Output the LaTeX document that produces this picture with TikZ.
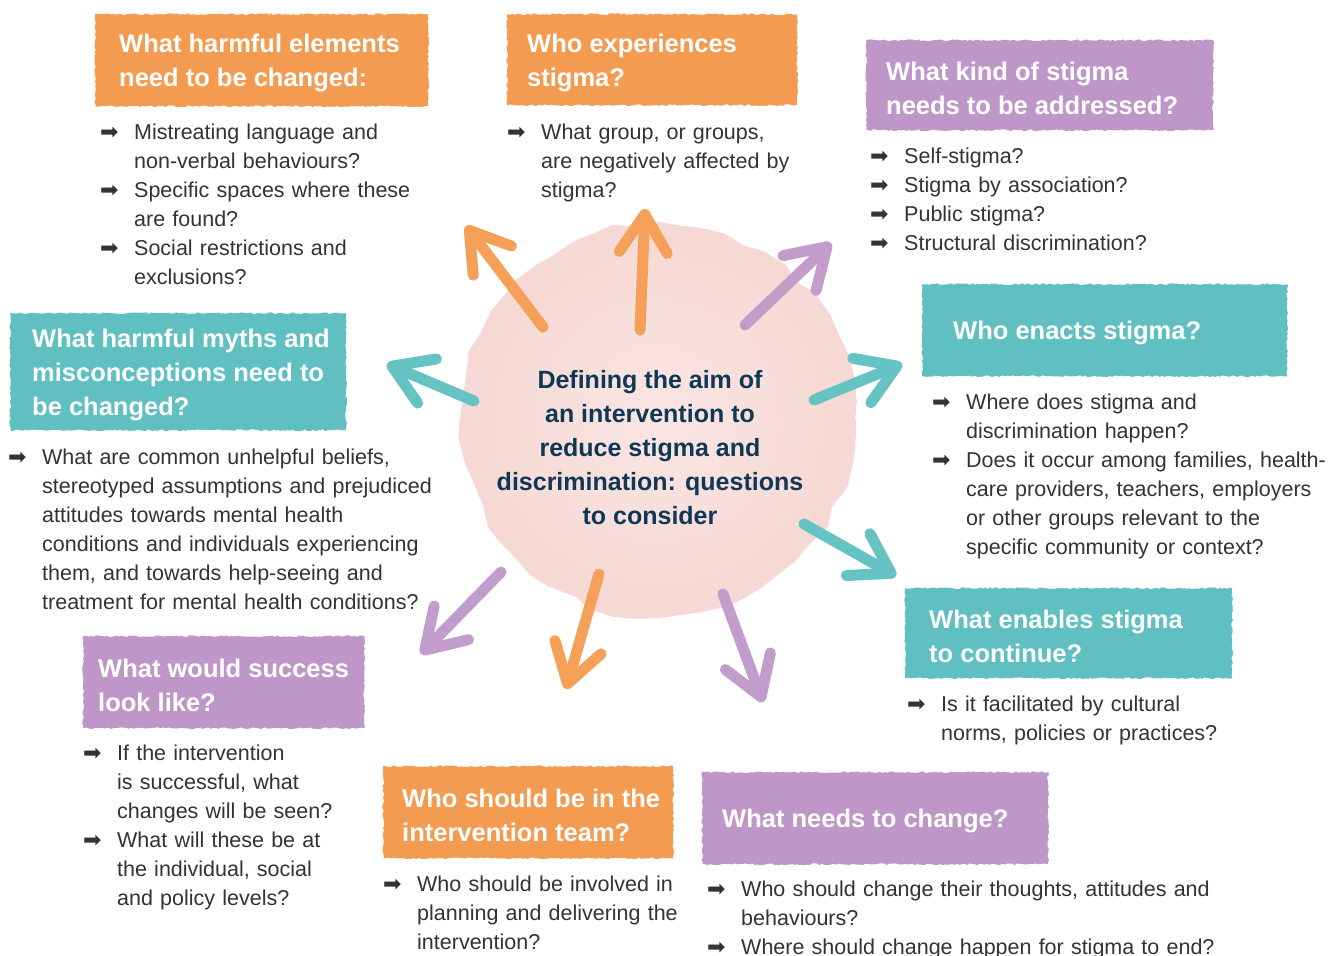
\documentclass[tikz,border=0pt]{standalone}
\usepackage{fontspec}
\setmainfont{Liberation Sans}
\newfontfamily\symfont{DejaVu Sans}
\usetikzlibrary{arrows.meta,positioning,decorations.pathmorphing}

\definecolor{boxOrange}{HTML}{F39B50}
\definecolor{boxTeal}{HTML}{5FBFC1}
\definecolor{boxPurple}{HTML}{BE97C8}
\definecolor{arrOrange}{HTML}{F5A058}
\definecolor{arrTeal}{HTML}{66C3C4}
\definecolor{arrPurple}{HTML}{C29DCB}
\definecolor{bodyGray}{HTML}{333333}
\definecolor{navy}{HTML}{0E3856}
\definecolor{blobInner}{HTML}{FAE6E3}
\definecolor{blobOuter}{HTML}{F6D8D4}

\newcommand{\titlefont}{\bfseries\fontsize{25.5}{34}\selectfont}
\newcommand{\listfont}{\fontsize{21.5}{29}\selectfont}
\newcommand{\bul}{{\symfont\fontsize{22}{22}\selectfont ➡}}
\newcommand{\qitem}[1]{\par\noindent\hangindent=34pt\hangafter=1\strut
  \makebox[34pt][l]{\bul}{\let\\\newline #1}\par}

\begin{document}
\begin{tikzpicture}[
    x=1pt, y=-1pt,
    qbox/.style n args={3}{fill=#1, minimum width=#2, minimum height=#3, anchor=north west,
                           inner sep=0pt, decorate,
                           decoration={random steps, segment length=2.5pt, amplitude=0.9pt}},
    qtitle/.style={align=left, text=white, font=\titlefont, inner sep=0pt, yshift=-3pt},
    qlist/.style={anchor=north west, inner sep=0pt, align=left, text=bodyGray,
                  font=\listfont, text width=540pt},
    spoke/.style={draw=#1, line width=11pt, line cap=round,
                  -{Straight Barb[length=38pt, width=48pt, round]}}
  ]
  \useasboundingbox (0,0) rectangle (1339,956);
  \fill[white] (0,0) rectangle (1339,956);

  % watercolour blob behind the centre
  \shade[inner color=blobInner, outer color=blobOuter, decorate,
         decoration={random steps, segment length=22pt, amplitude=4pt}]
    (658,420) circle (197pt);

  \node[align=center, text=navy, font=\bfseries\fontsize{25}{34}\selectfont] (aim) at (650,448)
    {Defining the aim of\\an intervention to\\reduce stigma and\\discrimination: questions\\to consider};

  % arrow ends
  \coordinate (a1s) at (543,327); \coordinate (a1e) at (466,226);
  \coordinate (a2s) at (640,330); \coordinate (a2e) at (645,209);
  \coordinate (a3s) at (745,325); \coordinate (a3e) at (831,243);
  \coordinate (a4s) at (814,400); \coordinate (a4e) at (902,364);
  \coordinate (a5s) at (804,524); \coordinate (a5e) at (896,576);
  \coordinate (a6s) at (474,401); \coordinate (a6e) at (387,364);
  \coordinate (a7s) at (501,572); \coordinate (a7e) at (421,654);
  \coordinate (a8s) at (599,574); \coordinate (a8e) at (566,689);
  \coordinate (a9s) at (723,594); \coordinate (a9e) at (763,702);

  \draw[spoke=arrOrange] (a1s) -- (a1e);
  \draw[spoke=arrOrange] (a2s) -- (a2e);
  \draw[spoke=arrPurple] (a3s) -- (a3e);
  \draw[spoke=arrTeal]   (a4s) -- (a4e);
  \draw[spoke=arrTeal]   (a5s) -- (a5e);
  \draw[spoke=arrTeal]   (a6s) -- (a6e);
  \draw[spoke=arrPurple] (a7s) -- (a7e);
  \draw[spoke=arrOrange] (a8s) -- (a8e);
  \draw[spoke=arrPurple] (a9s) -- (a9e);

  % question boxes
  \node[qbox={boxOrange}{333pt}{92pt}] (harmElem) at (95,14) {};
  \node[qtitle, right=24pt of harmElem.west] {What harmful elements\\need to be changed:};
  \node[qlist, below right=4pt and 5pt of harmElem.south west] (harmElemList)
    {\qitem{Mistreating language and\\non-verbal behaviours?}%
     \qitem{Specific spaces where these\\are found?}%
     \qitem{Social restrictions and\\exclusions?}};

  \node[qbox={boxOrange}{290pt}{91pt}] (whoExp) at (507,14) {};
  \node[qtitle, right=20pt of whoExp.west] {Who experiences\\stigma?};
  \node[qlist, below right=5pt and 0pt of whoExp.south west] (whoExpList)
    {\qitem{What group, or groups,\\are negatively affected by\\stigma?}};

  \node[qbox={boxPurple}{347pt}{90pt}] (kindStigma) at (866,40) {};
  \node[qtitle, right=20pt of kindStigma.west] {What kind of stigma\\needs to be addressed?};
  \node[qlist, below right=4pt and 4pt of kindStigma.south west] (kindStigmaList)
    {\qitem{Self-stigma?}%
     \qitem{Stigma by association?}%
     \qitem{Public stigma?}%
     \qitem{Structural discrimination?}};

  \node[qbox={boxTeal}{336pt}{117pt}] (myths) at (10,313) {};
  \node[qtitle, right=22pt of myths.west] {What harmful myths and\\misconceptions need to\\be changed?};
  \node[qlist, below right=5pt and -2pt of myths.south west] (mythsList)
    {\qitem{What are common unhelpful beliefs,\\stereotyped assumptions and prejudiced\\attitudes towards mental health\\conditions and individuals experiencing\\them, and towards help-seeing and\\treatment for mental health conditions?}};

  \node[qbox={boxTeal}{365pt}{92pt}] (whoEnacts) at (922,284) {};
  \node[qtitle, right=31pt of whoEnacts.west] {Who enacts stigma?};
  \node[qlist, below right=4pt and 10pt of whoEnacts.south west] (whoEnactsList)
    {\qitem{Where does stigma and\\discrimination happen?}%
     \qitem{Does it occur among families, health-\\care providers, teachers, employers\\or other groups relevant to the\\specific community or context?}};

  \node[qbox={boxTeal}{327pt}{90pt}] (enables) at (905,588) {};
  \node[qtitle, right=24pt of enables.west] {What enables stigma\\to continue?};
  \node[qlist, below right=4pt and 2pt of enables.south west] (enablesList)
    {\qitem{Is it facilitated by cultural\\norms, policies or practices?}};

  \node[qbox={boxPurple}{281pt}{92pt}] (success) at (83,636) {};
  \node[qtitle, right=15pt of success.west] {What would success\\look like?};
  \node[qlist, below right=3pt and 0pt of success.south west] (successList)
    {\qitem{If the intervention\\is successful, what\\changes will be seen?}%
     \qitem{What will these be at\\the individual, social\\and policy levels?}};

  \node[qbox={boxOrange}{290pt}{92pt}] (team) at (383,766) {};
  \node[qtitle, right=19pt of team.west] {Who should be in the\\intervention team?};
  \node[qlist, below right=4pt and 0pt of team.south west] (teamList)
    {\qitem{Who should be involved in\\planning and delivering the\\intervention?}};

  \node[qbox={boxPurple}{346pt}{92pt}] (needsChange) at (702,772) {};
  \node[qtitle, right=20pt of needsChange.west] {What needs to change?};
  \node[qlist, below right=3pt and 5pt of needsChange.south west] (needsChangeList)
    {\qitem{Who should change their thoughts, attitudes and\\behaviours?}%
     \qitem{Where should change happen for stigma to end?}};
\end{tikzpicture}
\end{document}
